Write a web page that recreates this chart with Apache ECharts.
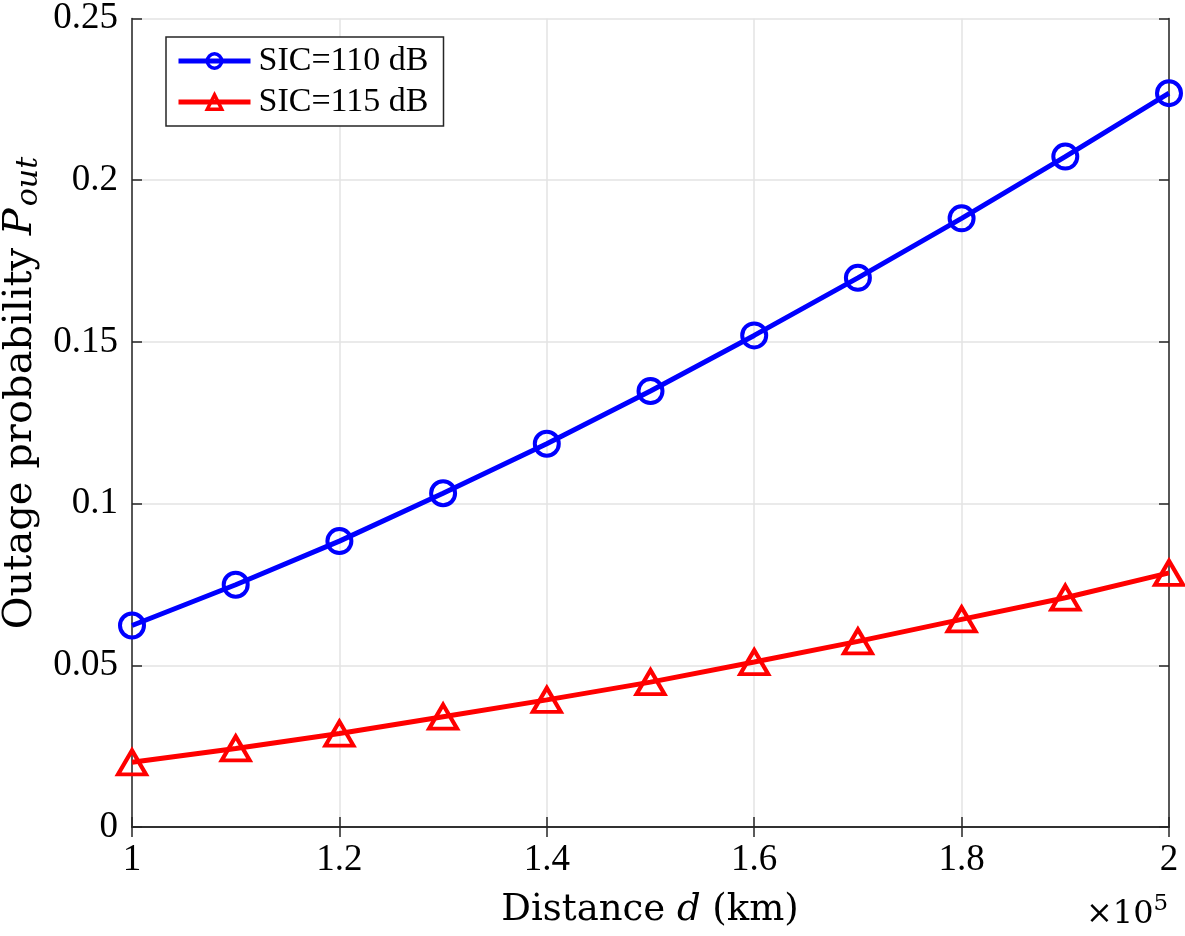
<!DOCTYPE html>
<html><head><meta charset="utf-8">
<script src="https://cdn.jsdelivr.net/npm/echarts@6/dist/echarts.min.js"></script>
<style>html,body{margin:0;padding:0;background:#fff}#c{width:1185px;height:936px}</style>
</head><body><div id="c"></div>
<script>
const distances = [100000,110000,120000,130000,140000,150000,160000,170000,180000,190000,200000];
const sic110 = [0.0623,0.0749,0.0884,0.1032,0.1185,0.1348,0.1520,0.1698,0.1882,0.2073,0.2269];
const sic115 = [0.0200,0.0243,0.0289,0.0341,0.0393,0.0448,0.0510,0.0574,0.0642,0.0709,0.0786];
const seriesNames = ['SIC=110 dB','SIC=115 dB'];
const FONT = '"Liberation Serif", "Times New Roman", serif';
const TFONT = '"DejaVu Serif", serif';
const AX = '#262626';
const chart = echarts.init(document.getElementById('c'));
const pairs = a => distances.map((d,i)=>[d,a[i]]);
const xBase = {type:'value',min:100000,max:200000,interval:20000,
  axisLine:{show:true,lineStyle:{color:AX,width:1.5}},
  axisTick:{show:true,inside:true,length:10,lineStyle:{color:AX,width:1.5}}};
const yBase = {type:'value',min:0,max:0.25,interval:0.05,
  axisLine:{show:true,lineStyle:{color:AX,width:1.5}},
  axisTick:{show:true,inside:true,length:10,lineStyle:{color:AX,width:1.5}}};
chart.setOption({
  animation:false,
  backgroundColor:'#fff',
  grid:{left:132,right:16,top:13,bottom:109,containLabel:false},
  legend:{left:166,top:37,orient:'vertical',itemGap:5,itemWidth:72,itemHeight:18,
    padding:[6,15,6,10],borderColor:AX,borderWidth:1.5,backgroundColor:'#fff',
    lineStyle:{width:5},itemStyle:{borderWidth:3.5},
    textStyle:{fontFamily:FONT,fontSize:34,lineHeight:36,color:'#000',padding:[0,0,0,3]},data:seriesNames},
  xAxis:[Object.assign({},xBase,{position:'bottom',
      axisLabel:{fontFamily:FONT,fontSize:37,color:'#000',margin:15,
        formatter:v=>String(+(v/100000).toFixed(1))},
      splitLine:{show:true,lineStyle:{color:'#e3e3e3',width:1.5}}}),
    Object.assign({},xBase,{position:'top',axisLabel:{show:false},splitLine:{show:false}})],
  yAxis:[Object.assign({},yBase,{position:'left',
      axisLabel:{fontFamily:FONT,fontSize:37,color:'#000',margin:14,
        formatter:v=>String(+v.toFixed(2))},
      splitLine:{show:true,lineStyle:{color:'#e3e3e3',width:1.5}}}),
    Object.assign({},yBase,{position:'right',axisLabel:{show:false},splitLine:{show:false}})],
  graphic:[
    {type:'text',x:650,y:910,style:{
      rich:{n:{fontFamily:TFONT,fontSize:37,fill:'#000'},i:{fontFamily:TFONT,fontSize:37,fontStyle:'italic',fill:'#000'}},
      text:'{n|Distance }{i|d}{n| (km)}',align:'center',verticalAlign:'middle'}},
    {type:'text',x:21,y:393,rotation:Math.PI/2,style:{
      rich:{n:{fontFamily:TFONT,fontSize:40,fill:'#000'},i:{fontFamily:TFONT,fontSize:40,fontStyle:'italic',fill:'#000'},
        s:{fontFamily:TFONT,fontSize:30,fontStyle:'italic',fill:'#000',padding:[17,0,0,2]}},
      text:'{n|Outage probability }{i|P}{s|out}',align:'center',verticalAlign:'middle'}},
    {type:'text',x:1086,y:893,style:{
      rich:{n:{fontFamily:TFONT,fontSize:32,fill:'#000'},s:{fontFamily:TFONT,fontSize:23,fill:'#000',padding:[0,0,20,0]}},
      text:'{n|×10}{s|5}'}}
  ],
  series:[
    {name:seriesNames[0],type:'line',data:pairs(sic110),symbol:'circle',symbolSize:24,
      lineStyle:{color:'#0000ff',width:5},
      itemStyle:{color:'rgba(255,255,255,0)',borderColor:'#0000ff',borderWidth:4},z:3},
    {name:seriesNames[1],type:'line',data:pairs(sic115),symbol:'triangle',symbolSize:[28,24],
      lineStyle:{color:'#ff0000',width:5},
      itemStyle:{color:'rgba(255,255,255,0)',borderColor:'#ff0000',borderWidth:4},z:3}
  ]
});
</script></body></html>
